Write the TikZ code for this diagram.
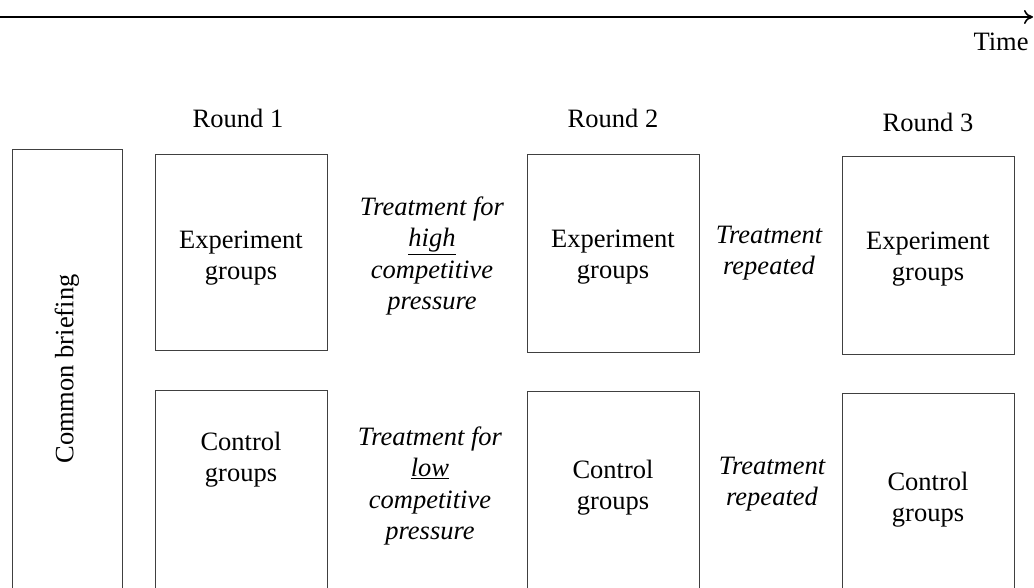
\documentclass[tikz,border=0pt]{standalone}
\usepackage{fontspec}
\setmainfont{Liberation Serif}
\usetikzlibrary{arrows.meta}
\begin{document}
\begin{tikzpicture}[x=1pt,y=-1pt,
  box/.style={draw=black!75, line width=1pt, minimum width=172pt, inner sep=0pt},
  lbl/.style={align=center, inner sep=0pt, font=\fontsize{26.5}{31}\selectfont},
  ital/.style={lbl, font=\fontsize{26.5}{31.5}\selectfont\itshape}]
\useasboundingbox (0,0) rectangle (1034,588);
\clip (0,0) rectangle (1034,588);
% time axis
\coordinate (t0) at (0,17);
\coordinate (t1) at (1033,17);
\draw[line width=1.6pt, -{To[length=9pt,width=14pt]}] (t0) -- (t1);
\node[lbl] (time) at (1001,42) {Time};
% round labels
\node[lbl] (r1) at (238,118) {Round 1};
\node[lbl] (r2) at (613,118) {Round 2};
\node[lbl] (r3) at (928,122) {Round 3};
% common briefing
\node[box, minimum width=110pt, minimum height=460pt] (cb) at (67,380) {};
\node[lbl, rotate=90] (cbt) at (67,369) {Common briefing};
% round 1
\node[box, minimum height=195pt] (e1) at (241,252.5) {};
\node[box, minimum height=220pt] (c1) at (241,500) {};
\node[lbl] (e1t) at (241,258) {Experiment\\groups};
\node[lbl] (c1t) at (241,460) {Control\\groups};
% treatments 1
\node[ital] (th) at (432,256) {Treatment for\\\underline{high}\\competitive\\pressure};
\node[ital] (tl) at (430,486) {Treatment for\\\underline{low}\\competitive\\pressure};
% round 2
\node[box, minimum height=197pt] (e2) at (613.5,253.5) {};
\node[box, minimum height=220pt] (c2) at (613.5,501) {};
\node[lbl] (e2t) at (613,257) {Experiment\\groups};
\node[lbl] (c2t) at (613,488) {Control\\groups};
% treatments 2
\node[ital] (tr1) at (769,253) {Treatment\\repeated};
\node[ital] (tr2) at (772,484) {Treatment\\repeated};
% round 3
\node[box, minimum height=197pt] (e3) at (928.5,255.5) {};
\node[box, minimum height=220pt] (c3) at (928.5,503) {};
\node[lbl] (e3t) at (928,259) {Experiment\\groups};
\node[lbl] (c3t) at (928,500) {Control\\groups};
\end{tikzpicture}
\end{document}
